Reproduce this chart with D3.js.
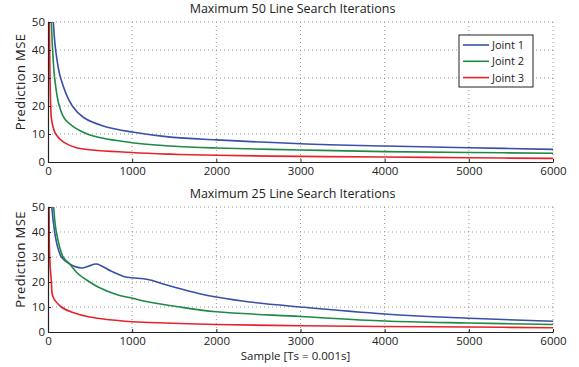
<!DOCTYPE html>
<html>
<head>
<meta charset="utf-8">
<script src="https://cdn.jsdelivr.net/npm/d3@7"></script>
<style>
 body { margin: 0; background: #fff; }
 text { font-family: "Open Sans", "Noto Sans", sans-serif; fill: #222; }
</style>
</head>
<body>
<div id="chart"></div>
<script>
// tick labels
var xTicks = [0, 1000, 2000, 3000, 4000, 5000, 6000];
var yTicks = [0, 10, 20, 30, 40, 50];
var seriesNames = ["Joint 1", "Joint 2", "Joint 3"];
var titles = ["Maximum 50 Line Search Iterations", "Maximum 25 Line Search Iterations"];

// top panel (50 iterations)
var top1X = [0, 15, 63, 91, 150, 289, 427, 664, 1000, 1455, 2000, 3000, 4000, 5000, 6000];
var top1Y = [0, 80, 50, 40, 30, 20, 15.8, 12.8, 10.7, 8.9, 7.9, 6.5, 5.7, 5.1, 4.5];
var top2X = [0, 10, 40, 55, 79, 134, 209, 466, 1000, 1455, 2000, 3000, 4000, 5000, 6000];
var top2Y = [0, 80, 50, 40, 30, 20, 15, 10, 6.9, 5.7, 5.0, 4.3, 3.7, 3.4, 3.1];
var top3X = [0, 5, 24, 32, 43, 91, 190, 348, 1000, 1455, 2000, 3000, 4000, 5000, 6000];
var top3Y = [0, 70, 30, 20, 15, 10, 7, 5, 3.4, 2.8, 2.4, 2.0, 1.8, 1.5, 1.3];

// bottom panel (25 iterations)
var bot1X = [0, 15, 45, 79, 107, 159, 258, 397, 480, 575, 754, 913, 1000, 1190, 1389, 1604, 1842, 2000, 2396, 3000, 4000, 5000, 6000];
var bot1Y = [0, 70, 50, 40, 35, 30, 27.2, 25.6, 26.3, 27.2, 24.3, 22.1, 21.7, 21.0, 19, 17, 15, 14, 12, 10.0, 7.2, 5.5, 4.3];
var bot2X = [0, 30, 67, 99, 179, 258, 357, 496, 595, 813, 992, 1200, 1525, 2000, 3000, 4000, 5000, 6000];
var bot2Y = [3, 70, 50, 40, 30, 27.2, 23.3, 20, 18, 15, 13.6, 12, 10.2, 8.1, 6.2, 4.4, 3.6, 3.0];
var bot3X = [0, 6, 20, 40, 60, 159, 278, 496, 1000, 1200, 2000, 3000, 4000, 5000, 6000];
var bot3Y = [0, 60, 30, 20, 14, 10, 8, 6, 4.1, 3.8, 3.0, 2.5, 2.2, 2.0, 1.7];

var colors = ["#3a4fa8", "#1e8a44", "#e8222a"];

var panels = [
 {title: titles[0], xs: [top1X, top2X, top3X], ys: [top1Y, top2Y, top3Y], top: 22, h: 140, legend: true, xlabel: false},
 {title: titles[1], xs: [bot1X, bot2X, bot3X], ys: [bot1Y, bot2Y, bot3Y], top: 207, h: 125, legend: false, xlabel: true}
];

var W = 579, H = 367;
var left = 48, plotW = 505;

var svg = d3.select("#chart")
 .append("svg")
 .attr("width", W)
 .attr("height", H);

var x = d3.scaleLinear().domain([0, 6000]).range([0, plotW]);

panels.forEach(function(p, pi) {
 var plotH = p.h;
 var y = d3.scaleLinear().domain([0, 50]).range([plotH, 0]);
 var g = svg.append("g")
  .attr("transform", "translate(" + left + "," + p.top + ")");

 // grid
 g.selectAll(".vgrid")
  .data(xTicks.slice(1))
  .enter().append("line")
  .attr("x1", function(d) { return x(d); })
  .attr("x2", function(d) { return x(d); })
  .attr("y1", 0).attr("y2", plotH)
  .attr("stroke", "#8a8a8a").attr("stroke-width", 0.9)
  .attr("stroke-dasharray", "1,3");
 g.selectAll(".hgrid")
  .data(yTicks.slice(1))
  .enter().append("line")
  .attr("y1", function(d) { return y(d); })
  .attr("y2", function(d) { return y(d); })
  .attr("x1", 0).attr("x2", plotW)
  .attr("stroke", "#8a8a8a").attr("stroke-width", 0.9)
  .attr("stroke-dasharray", "1,3");

 // clip
 svg.append("clipPath").attr("id", "clip" + pi)
  .append("rect").attr("x", 0).attr("y", 0).attr("width", plotW).attr("height", plotH);

 var line = d3.line()
  .x(function(d) { return x(d[0]); })
  .y(function(d) { return y(d[1]); })
  .curve(d3.curveCatmullRom.alpha(0.5));

 var lines = g.append("g").attr("clip-path", "url(#clip" + pi + ")");
 for (var s = 0; s < 3; s++) {
  var pts = d3.zip(p.xs[s], p.ys[s]);
  lines.append("path")
   .datum(pts)
   .attr("d", line)
   .attr("fill", "none")
   .attr("stroke", colors[s])
   .attr("stroke-width", 1.6);
 }

 // axes (ticks pointing inward like matlab)
 var xa = g.append("g")
  .attr("transform", "translate(0," + plotH + ")")
  .call(d3.axisBottom(x).tickValues(xTicks).tickSizeInner(-3).tickSizeOuter(0).tickPadding(5).tickFormat(d3.format("d")));
 var ya = g.append("g")
  .call(d3.axisLeft(y).tickValues(yTicks).tickSizeInner(-3).tickSizeOuter(0).tickPadding(3));
 [xa, ya].forEach(function(a) {
  a.select(".domain").attr("stroke", "#222").attr("stroke-width", 1.2);
  a.selectAll(".tick line").attr("stroke", "#222");
  a.selectAll("text").style("font-size", "11.5px").attr("fill", "#222");
 });

 g.append("text")
  .attr("x", plotW / 2 - 8)
  .attr("y", -9)
  .attr("text-anchor", "middle")
  .style("font-size", "12.5px")
  .text(p.title);

 g.append("text")
  .attr("transform", "translate(" + (-23) + "," + (plotH / 2 - 10) + ") rotate(-90)")
  .attr("text-anchor", "middle")
  .style("font-size", "13px")
  .style("letter-spacing", "0.4px")
  .text("Prediction MSE");

 if (p.xlabel) {
  g.append("text")
   .attr("x", plotW / 2 - 5)
   .attr("y", plotH + 28)
   .attr("text-anchor", "middle")
   .style("font-size", "11.5px")
   .text("Sample [Ts = 0.001s]");
 }

 if (p.legend) {
  var lg = g.append("g").attr("transform", "translate(" + (459 - left) + "," + (35 - p.top) + ")");
  lg.append("rect")
   .attr("width", 74).attr("height", 52)
   .attr("fill", "#fff").attr("stroke", "#222").attr("stroke-width", 1);
  seriesNames.forEach(function(n, i) {
   var yy = 10 + i * 16.3;
   lg.append("line")
    .attr("x1", 4).attr("x2", 30).attr("y1", yy).attr("y2", yy)
    .attr("stroke", colors[i]).attr("stroke-width", 1.6);
   lg.append("text")
    .attr("x", 33).attr("y", yy + 4)
    .style("font-size", "11px")
    .text(n);
  });
 }
});
</script>
</body>
</html>
